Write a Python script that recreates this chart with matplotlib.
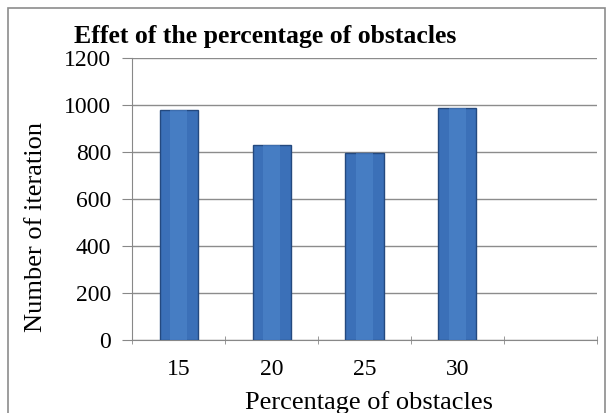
import matplotlib.pyplot as plt
from matplotlib.patches import Rectangle

# valeurs
categories = ["15", "20", "25", "30", ""]
iterations = [977, 830, 797, 985, None]

plt.rcParams['font.family'] = ['Liberation Serif', 'DejaVu Serif']

fig = plt.figure(figsize=(6.09, 4.13), dpi=100)
ax = fig.add_axes([0.217, 0.177, 0.763, 0.683])

xs = list(range(len(categories)))
vals = [v for v in iterations if v is not None]
ax.bar(xs[:len(vals)], vals, width=0.41, color='#3b70b8',
       edgecolor='#24497f', linewidth=1.0, zorder=3)
# léger reflet sur les barres
ax.bar(xs[:len(vals)], vals, width=0.18, color='#4f86cc', linewidth=0,
       zorder=4, alpha=0.6)

ax.set_xlim(-0.5, len(categories) - 0.5)
ax.set_ylim(0, 1200)
ax.set_yticks(range(0, 1201, 200))
ax.set_xticks(xs)
ax.set_xticklabels(categories)
ax.set_xticks([x - 0.5 for x in xs] + [len(categories) - 0.5], minor=True)
ax.tick_params(axis='x', which='major', length=0, pad=14, labelsize=17)
ax.tick_params(axis='x', which='minor', length=6, color='#888888', direction='inout')
ax.tick_params(axis='y', length=7, color='#888888', labelsize=17, pad=8)

ax.yaxis.grid(True, color='#8c8c8c', linewidth=1.0, zorder=0)
for s in ['top', 'right']:
    ax.spines[s].set_visible(False)
ax.spines['left'].set_color('#888888')
ax.spines['bottom'].set_color('#888888')

ax.set_ylabel("Number of iteration", fontsize=19)
ax.yaxis.set_label_coords(-0.183, 0.40)
ax.set_xlabel("Percentage of obstacles", fontsize=19)
ax.xaxis.set_label_coords(0.51, -0.18)
fig.text(0.436, 0.912, "Effet of the percentage of obstacles",
         ha='center', va='center', fontsize=18.5, fontweight='bold')

fig.patches.append(Rectangle((0.013, -0.01), 0.98, 0.99, transform=fig.transFigure,
                             fill=False, edgecolor='#8c8c8c', linewidth=1.2))

fig.savefig("out.png", dpi=100)
